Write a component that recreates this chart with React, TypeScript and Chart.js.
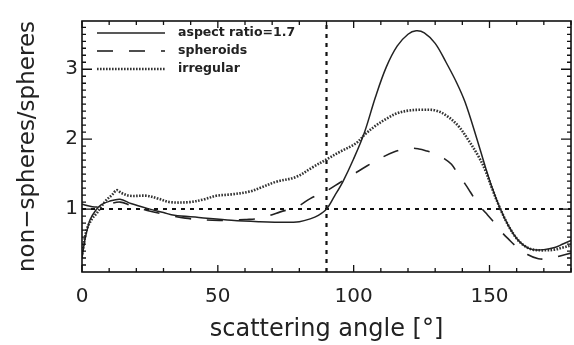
import { useEffect, useRef } from "react";
import { Chart, registerables } from "chart.js";
Chart.register(...registerables);

const xTicks = [0, 50, 100, 150];
const yTicks = [1, 2, 3];
const xRange = [0, 180];
const yRange = [0.1, 3.69];

const seriesLabels = ["aspect ratio=1.7", "spheroids", "irregular"];

const aspectX = [0, 1, 2, 3, 5, 7, 10, 14, 18, 24, 30, 34, 43, 55, 65, 75, 80, 84, 87, 90, 93, 96, 100, 104, 108, 112, 116, 120, 123, 126, 130, 134, 138, 141, 145, 148.5, 151, 154, 157, 160, 163, 166, 170, 174, 177, 180];
const aspectY = [0.3, 0.55, 0.72, 0.85, 0.98, 1.06, 1.11, 1.14, 1.08, 1.01, 0.95, 0.91, 0.88, 0.84, 0.82, 0.81, 0.82, 0.86, 0.91, 1.0, 1.19, 1.39, 1.72, 2.1, 2.6, 3.03, 3.33, 3.5, 3.55, 3.52, 3.37, 3.1, 2.8, 2.53, 2.05, 1.6, 1.3, 1.0, 0.76, 0.58, 0.47, 0.42, 0.42, 0.45, 0.5, 0.55];

const sphX = [0, 3, 6, 10, 14, 18, 24, 30, 38, 48, 54, 60, 66, 70, 73, 79, 84, 90, 95, 100, 105, 110, 115, 120, 124, 127, 130, 133, 136, 139, 141, 143, 146, 148.5, 151, 154.5, 157, 160, 164, 168, 172, 176, 180];
const sphY = [1.07, 1.04, 1.03, 1.07, 1.1, 1.05, 0.98, 0.93, 0.87, 0.84, 0.84, 0.85, 0.87, 0.92, 0.96, 1.03, 1.15, 1.26, 1.38, 1.5, 1.62, 1.73, 1.82, 1.87, 1.86, 1.83, 1.79, 1.73, 1.64, 1.46, 1.36, 1.24, 1.06, 0.95, 0.84, 0.67, 0.57, 0.46, 0.35, 0.29, 0.29, 0.33, 0.37];

const irrX = [0, 1.7, 3.5, 5.4, 7, 9, 11, 12.8, 14.5, 17.6, 23.8, 28, 32.3, 39.6, 45, 49.4, 55, 61.6, 66, 71.4, 78.8, 85, 90.4, 95, 100.8, 104.5, 108, 112, 116, 120.4, 125, 130.2, 134.4, 138.7, 142, 146, 148.5, 151, 154, 157, 160, 163, 166, 170, 174, 177, 180];
const irrY = [0.35, 0.7, 0.85, 0.94, 1.03, 1.13, 1.2, 1.27, 1.23, 1.19, 1.19, 1.15, 1.1, 1.1, 1.14, 1.19, 1.21, 1.25, 1.31, 1.39, 1.46, 1.6, 1.72, 1.82, 1.94, 2.08, 2.19, 2.29, 2.37, 2.41, 2.42, 2.41, 2.33, 2.18, 2.0, 1.75, 1.55, 1.29, 1.0, 0.76, 0.58, 0.47, 0.42, 0.41, 0.42, 0.45, 0.48];

const refAngle = 90;
const refRatio = 1;

const pts = (xs: number[], ys: number[]) => xs.map((x, i) => ({ x, y: ys[i] }));

const framePlugin = {
  id: "frame",
  afterDatasetsDraw(chart: any) {
    const { ctx, chartArea, scales } = chart;
    const { left, right, top, bottom } = chartArea;
    const x = scales.x;
    const y = scales.y;
    ctx.save();
    ctx.strokeStyle = "#111";
    ctx.lineWidth = 1.6;
    ctx.strokeRect(left, top, right - left, bottom - top);
    ctx.lineWidth = 1.3;
    ctx.beginPath();
    for (let v = xRange[0]; v <= xRange[1]; v += 10) {
      const px = x.getPixelForValue(v);
      const len = v % 50 === 0 ? 7 : 4;
      ctx.moveTo(px, bottom);
      ctx.lineTo(px, bottom - len);
      ctx.moveTo(px, top);
      ctx.lineTo(px, top + len);
    }
    for (let i = 2; i <= 36; i++) {
      const py = y.getPixelForValue(i / 10);
      const len = i % 10 === 0 ? 10 : 4;
      ctx.moveTo(left, py);
      ctx.lineTo(left + len, py);
      ctx.moveTo(right, py);
      ctx.lineTo(right - len, py);
    }
    ctx.stroke();
    ctx.restore();
  },
  afterDraw(chart: any) {
    const { ctx } = chart;
    ctx.save();
    const rows = [33, 51, 69];
    chart.data.datasets.forEach((ds: any, i: number) => {
      if (i >= seriesLabels.length) return;
      const yy = rows[i];
      ctx.strokeStyle = ds.borderColor;
      ctx.lineWidth = ds.borderWidth;
      ctx.setLineDash(ds.borderDash || []);
      ctx.beginPath();
      ctx.moveTo(97, yy);
      ctx.lineTo(165, yy);
      ctx.stroke();
      ctx.setLineDash([]);
      ctx.fillStyle = "#222";
      ctx.font = "bold 12.5px 'DejaVu Sans'";
      ctx.textBaseline = "middle";
      ctx.textAlign = "left";
      ctx.fillText(ds.label, 178, yy);
    });
    ctx.restore();
  },
};

export default function App() {
  const ref = useRef<HTMLCanvasElement>(null);
  useEffect(() => {
    if (!ref.current) return;
    Chart.defaults.font.family = "'DejaVu Sans'";
    const curve = { pointRadius: 0, tension: 0.35, fill: false };
    const chart = new Chart(ref.current, {
      type: "line",
      data: {
        datasets: [
          {
            label: seriesLabels[0],
            data: pts(aspectX, aspectY),
            borderColor: "#222",
            borderWidth: 1.5,
            ...curve,
          },
          {
            label: seriesLabels[1],
            data: pts(sphX, sphY),
            borderColor: "#222",
            borderWidth: 1.6,
            borderDash: [16, 16],
            ...curve,
          },
          {
            label: seriesLabels[2],
            data: pts(irrX, irrY),
            borderColor: "#333",
            borderWidth: 2.6,
            borderDash: [1.6, 1.4],
            ...curve,
          },
          {
            label: "",
            data: [{ x: xRange[0], y: refRatio }, { x: xRange[1], y: refRatio }],
            borderColor: "#111",
            borderWidth: 2,
            borderDash: [4, 5],
            pointRadius: 0,
            fill: false,
          },
          {
            label: "",
            data: [{ x: refAngle, y: yRange[0] }, { x: refAngle, y: yRange[1] }],
            borderColor: "#111",
            borderWidth: 2.2,
            borderDash: [4, 5],
            pointRadius: 0,
            fill: false,
          },
        ],
      },
      options: {
        animation: false,
        responsive: true,
        maintainAspectRatio: false,
        layout: { padding: { left: 0, top: 21, right: 3, bottom: 0 } },
        plugins: { legend: { display: false }, tooltip: { enabled: false } },
        scales: {
          x: {
            type: "linear",
            min: xRange[0],
            max: xRange[1],
            grid: { display: false, drawTicks: false },
            border: { display: false },
            afterBuildTicks: (s: any) => {
              s.ticks = xTicks.map((v) => ({ value: v }));
            },
            afterFit: (s: any) => {
              s.height = 73;
            },
            ticks: { color: "#222", font: { size: 20 }, padding: 13, maxRotation: 0, autoSkip: false },
            title: {
              display: true,
              text: "scattering angle [°]",
              color: "#222",
              font: { size: 24 },
              padding: { top: 0, bottom: 1 },
            },
          },
          y: {
            type: "linear",
            min: yRange[0],
            max: yRange[1],
            grid: { display: false, drawTicks: false },
            border: { display: false },
            afterBuildTicks: (s: any) => {
              s.ticks = yTicks.map((v) => ({ value: v }));
            },
            afterFit: (s: any) => {
              s.width = 82;
            },
            ticks: { color: "#222", font: { size: 20 }, padding: 4, autoSkip: false },
            title: {
              display: true,
              text: "non−spheres/spheres",
              color: "#222",
              font: { size: 23 },
              padding: { top: 14, bottom: 0 },
            },
          },
        },
      },
      plugins: [framePlugin],
    } as any);
    return () => chart.destroy();
  }, []);
  return (
    <div style={{ position: "fixed", left: 0, top: 0, width: 574, height: 345, background: "#fff" }}>
      <canvas ref={ref} />
    </div>
  );
}
